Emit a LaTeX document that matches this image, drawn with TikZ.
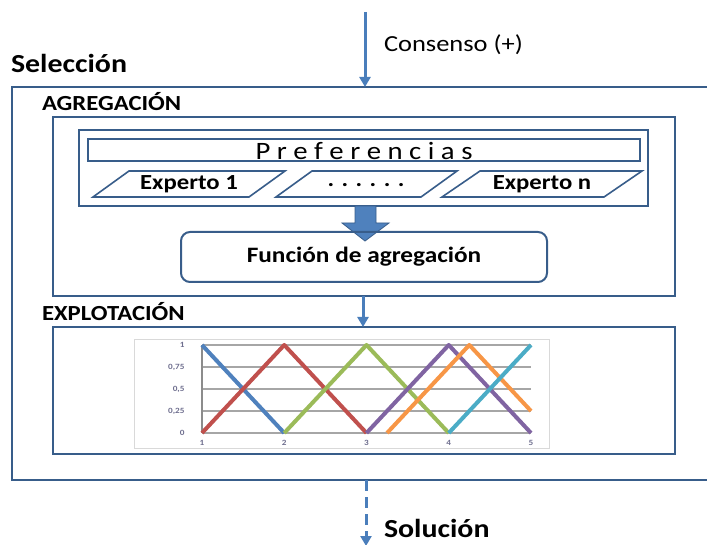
\documentclass[tikz,border=0pt]{standalone}
\usepackage{fontspec}
\setmainfont[FakeStretch=1.15]{Carlito}
\usetikzlibrary{arrows.meta}
\definecolor{boxc}{HTML}{385D8A}
\definecolor{arrc}{HTML}{4A7EBB}
\definecolor{fillc}{HTML}{4F81BD}
\definecolor{cblue}{HTML}{4F81BD}
\definecolor{cred}{HTML}{C0504D}
\definecolor{cgreen}{HTML}{9BBB59}
\definecolor{cpurple}{HTML}{8064A2}
\definecolor{corange}{HTML}{F79646}
\definecolor{ccyan}{HTML}{4BACC6}
\definecolor{gridc}{HTML}{A6A6A6}
\definecolor{tickc}{HTML}{6E6E8E}
\tikzset{
  frame/.style={draw=boxc, line width=2pt, inner sep=0pt, outer sep=0pt, anchor=north west},
  txt/.style={inner sep=0pt, outer sep=0pt, text=black},
  bigbold/.style={txt, font=\fontsize{26}{28}\selectfont\bfseries},
  midbold/.style={txt, font=\fontsize{21.5}{24}\selectfont\bfseries},
  flowarrow/.style={draw=arrc, line width=3pt, -{Triangle[length=10pt,width=11pt]}},
  para/.style={draw=boxc, line width=1.6pt, line join=miter},
  serie/.style={line width=4pt, line join=round},
  ticklab/.style={inner sep=0pt, text=tickc, font=\fontsize{8}{9}\selectfont\bfseries}
}
\begin{document}
\begin{tikzpicture}[x=1pt,y=-1pt]
\useasboundingbox (0,0) rectangle (707,545);

% outer box
\node[frame, line width=2.5pt, minimum width=700pt, minimum height=393pt] (sel) at (12,87) {};
\node[bigbold, anchor=west] (seltxt) at (11,63) {Selección};

% top arrow
\coordinate (topstart) at (365,12);
\draw[flowarrow] (topstart) -- (topstart |- sel.north);
\node[txt, anchor=west, font=\fontsize{23}{26}\selectfont] (cons) at (384,45) {Consenso (+)};

% agregacion
\node[frame, minimum width=622pt, minimum height=179pt] (agr) at (53,117) {};
\node[midbold, anchor=west] (agrtxt) at (42,102) {AGREGACIÓN};
\node[frame, minimum width=569pt, minimum height=76pt] (grp) at (79,130) {};
\node[frame, line width=1.6pt, minimum width=552pt, minimum height=22pt] (pref) at (88,139) {};
\node[txt, font=\fontsize{25}{28}\selectfont] (preftxt) at (364,151) {P r e f e r e n c i a s};

% parallelograms
\draw[para] (93,197) -- (129,171) -- (285,171) -- (249,197) -- cycle;
\node[midbold] (e1) at (189,184) {Experto 1};
\draw[para] (276,197) -- (312,171) -- (457,171) -- (421,197) -- cycle;
\node[midbold] (e2) at (366,185) {. . . . . .};
\draw[para] (442,197) -- (480,171) -- (642,171) -- (604,197) -- cycle;
\node[midbold] (e3) at (542,184) {Experto n};

% block arrow
\draw[draw=boxc, fill=fillc, line width=0.8pt, line join=miter]
  (355,206) -- (376,206) -- (376,223) -- (389,223) -- (365,241) -- (342,223) -- (355,223) -- cycle;

% funcion
\node[draw=boxc, line width=2pt, rounded corners=9pt, minimum width=366pt, minimum height=50pt,
      inner sep=0pt, font=\fontsize{22}{24}\selectfont\bfseries] (func) at (364,257) {Función de agregación};

% explotacion
\node[frame, minimum width=622pt, minimum height=127pt] (exp) at (53,327) {};
\node[midbold, anchor=west] (exptxt) at (42,312) {EXPLOTACIÓN};
\coordinate (a2) at (363,0);
\draw[flowarrow] (a2 |- agr.south) -- (a2 |- exp.north);

% chart
\node[draw=black!15, line width=0.8pt, inner sep=0pt, anchor=north west, minimum width=415pt, minimum height=109pt] (chart) at (134,339) {};
\begin{scope}[shift={(119.75,433)}, x=82.25pt, y=88pt]
  \foreach \u in {0.25,0.5,0.75,1} \draw[gridc, line width=1.3pt] (1,\u) -- (5,\u);
  \draw[gridc, line width=1.5pt] (1,0) -- (5,0);
  \draw[black!45, line width=2pt] (1,0) -- (1,1);
  \foreach \u/\l in {0/0,0.25/{0,25},0.5/{0,5},0.75/{0,75},1/1}
    \node[ticklab, anchor=east] at (0.79,\u) {\l};
  \foreach \v in {1,...,5}
    \node[ticklab] at (\v,-0.11) {\v};
  \draw[serie, cblue] (1,1) -- (2,0);
  \draw[serie, cred] (1,0) -- (2,1) -- (3,0);
  \draw[serie, cgreen] (2,0) -- (3,1) -- (4,0);
  \draw[serie, cpurple] (3,0) -- (4,1) -- (5,0);
  \draw[serie, corange] (3.25,0) -- (4.25,1) -- (5,0.25);
  \draw[serie, ccyan] (4,0) -- (5,1);
\end{scope}

% bottom dashed arrow
\coordinate (endb) at (366,546);
\draw[draw=arrc, line width=3pt, dash pattern=on 11pt off 6pt, -{Triangle[length=10pt,width=11pt]}] (sel.south -| endb) -- (endb);
\node[bigbold, anchor=west] (sol) at (384,528) {Solución};
\end{tikzpicture}
\end{document}
